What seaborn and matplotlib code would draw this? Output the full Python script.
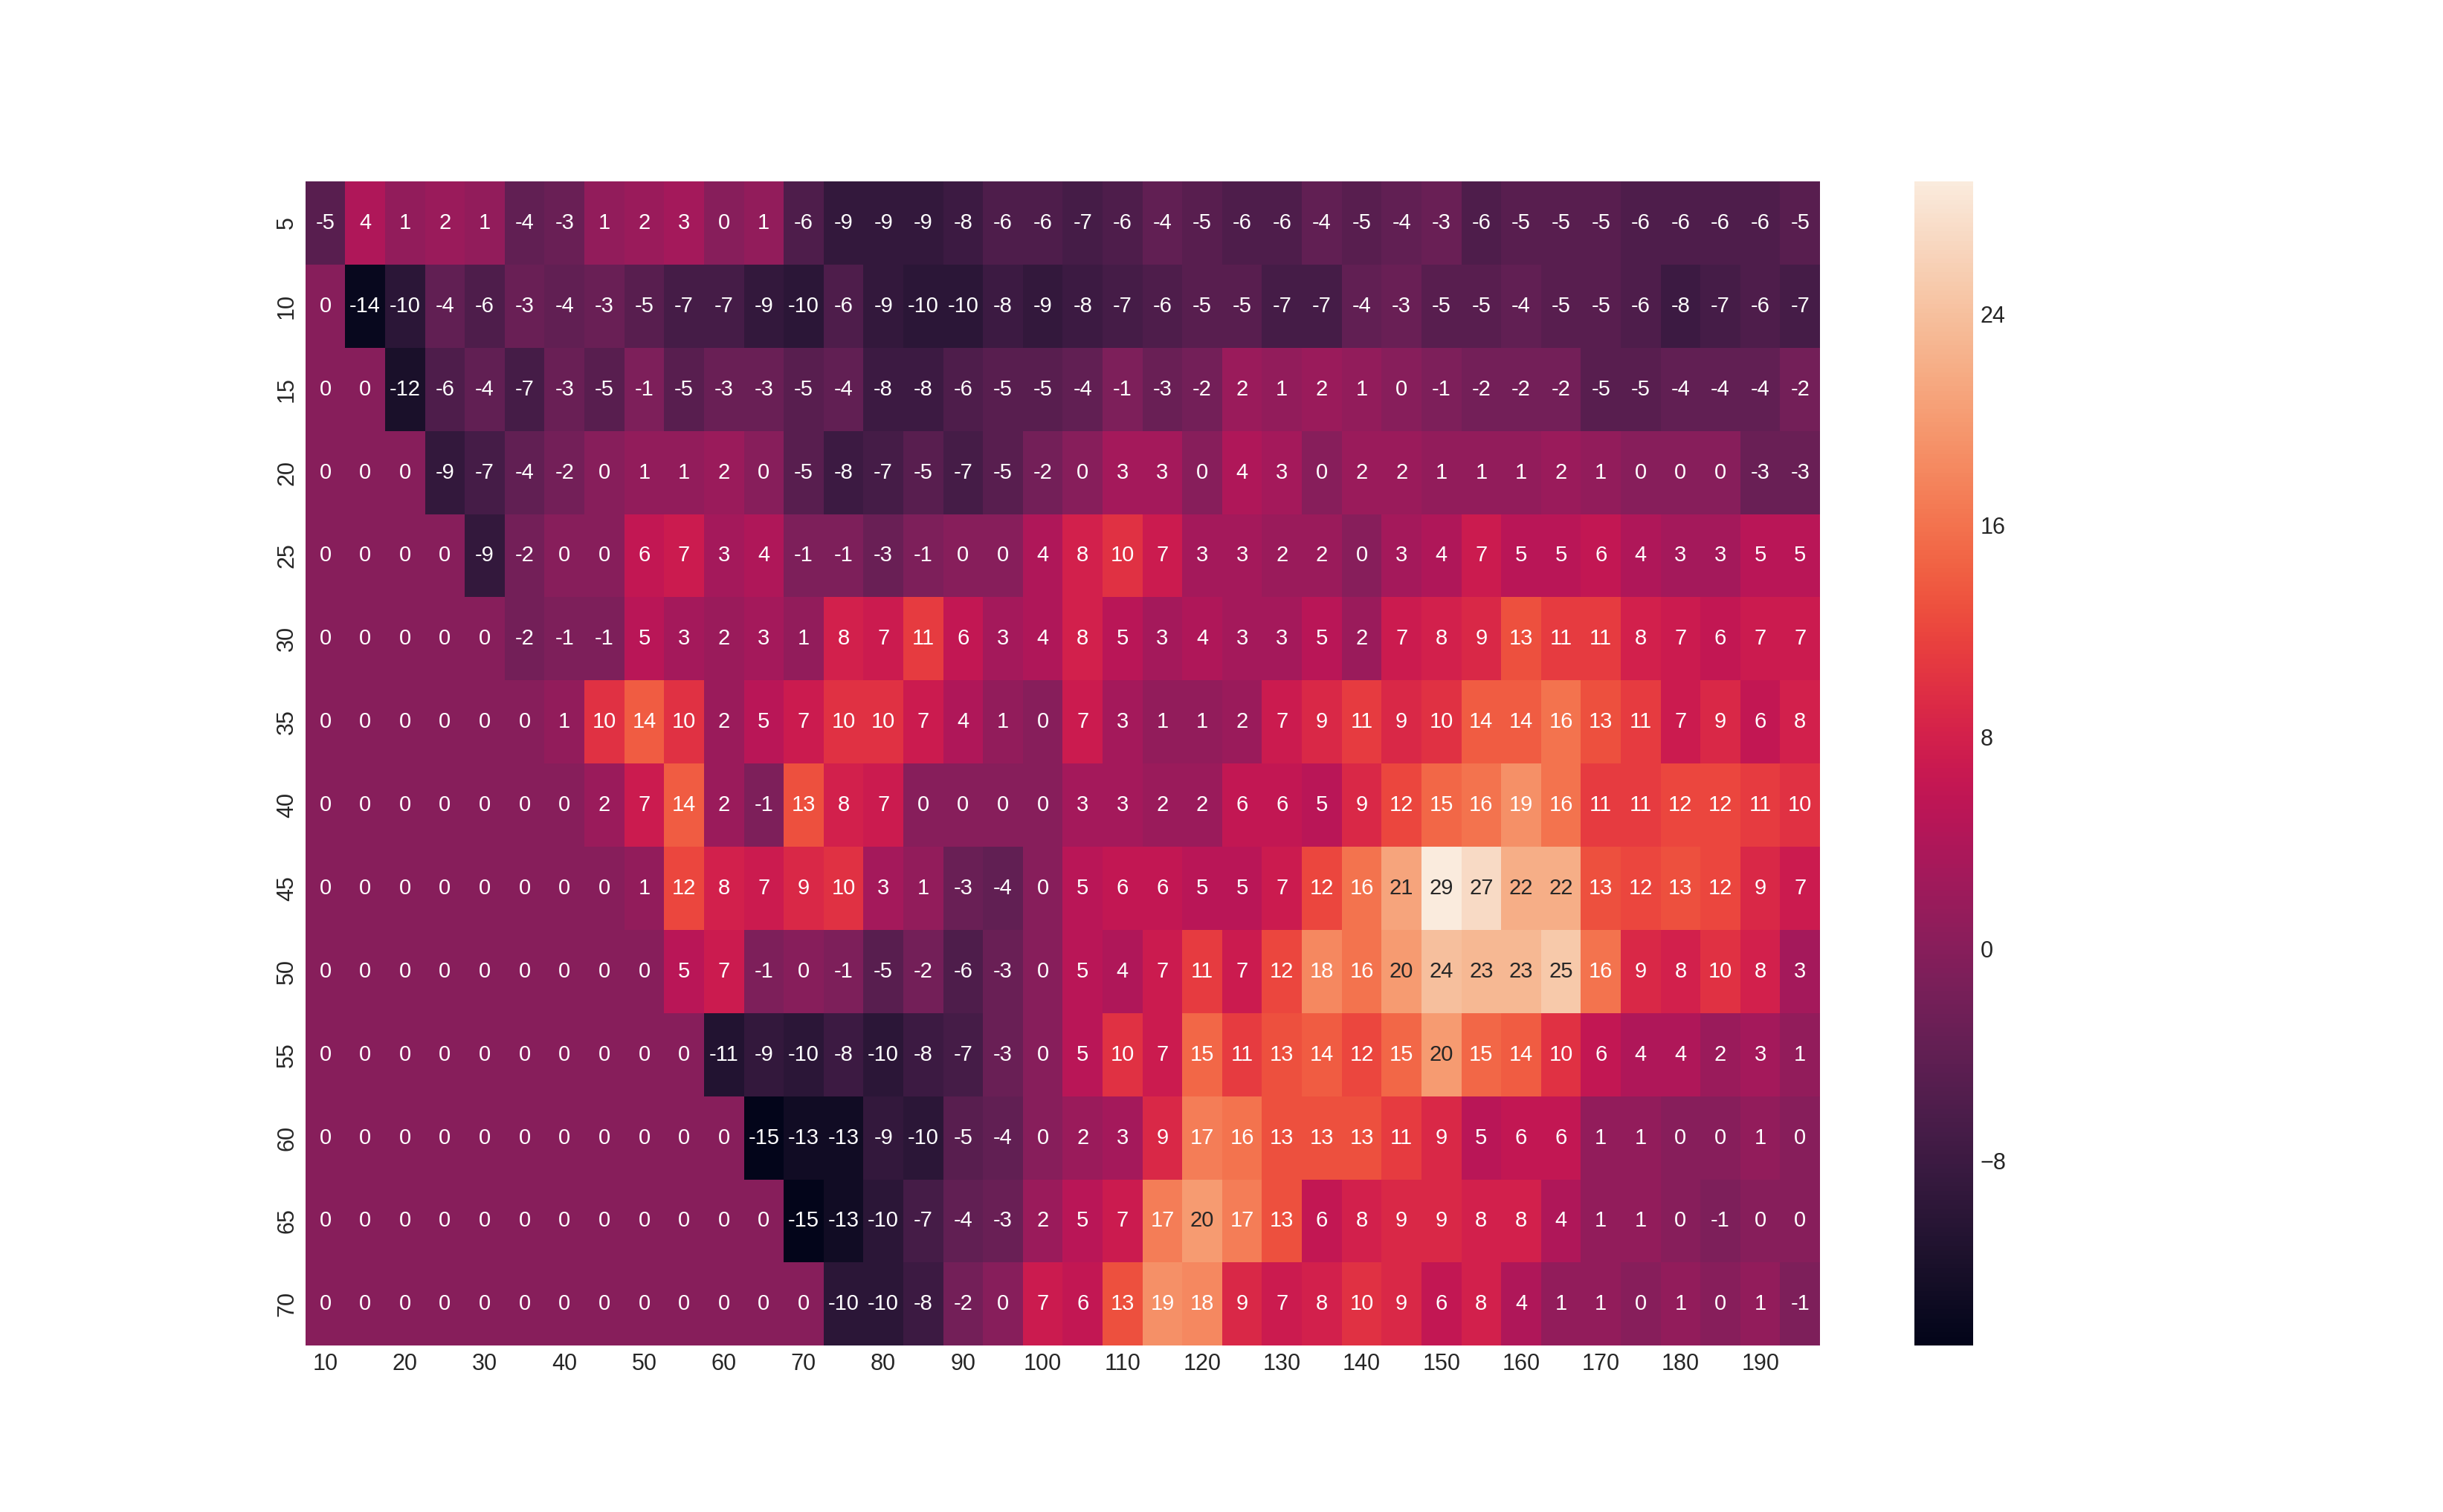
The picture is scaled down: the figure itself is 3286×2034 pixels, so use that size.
import numpy as np
import pandas as pd
import matplotlib
matplotlib.use('Agg')
import matplotlib.pyplot as plt
from matplotlib.ticker import MultipleLocator
import seaborn as sns

# row / column labels
rows = [5, 10, 15, 20, 25, 30, 35, 40, 45, 50, 55, 60, 65, 70]
cols = list(range(10, 200, 5))

r5 = [-5, 4, 1, 2, 1, -4, -3, 1, 2, 3, 0, 1, -6, -9, -9, -9, -8, -6, -6, -7, -6, -4, -5, -6, -6, -4, -5, -4, -3, -6, -5, -5, -5, -6, -6, -6, -6, -5]
r10 = [0, -14, -10, -4, -6, -3, -4, -3, -5, -7, -7, -9, -10, -6, -9, -10, -10, -8, -9, -8, -7, -6, -5, -5, -7, -7, -4, -3, -5, -5, -4, -5, -5, -6, -8, -7, -6, -7]
r15 = [0, 0, -12, -6, -4, -7, -3, -5, -1, -5, -3, -3, -5, -4, -8, -8, -6, -5, -5, -4, -1, -3, -2, 2, 1, 2, 1, 0, -1, -2, -2, -2, -5, -5, -4, -4, -4, -2]
r20 = [0, 0, 0, -9, -7, -4, -2, 0, 1, 1, 2, 0, -5, -8, -7, -5, -7, -5, -2, 0, 3, 3, 0, 4, 3, 0, 2, 2, 1, 1, 1, 2, 1, 0, 0, 0, -3, -3]
r25 = [0, 0, 0, 0, -9, -2, 0, 0, 6, 7, 3, 4, -1, -1, -3, -1, 0, 0, 4, 8, 10, 7, 3, 3, 2, 2, 0, 3, 4, 7, 5, 5, 6, 4, 3, 3, 5, 5]
r30 = [0, 0, 0, 0, 0, -2, -1, -1, 5, 3, 2, 3, 1, 8, 7, 11, 6, 3, 4, 8, 5, 3, 4, 3, 3, 5, 2, 7, 8, 9, 13, 11, 11, 8, 7, 6, 7, 7]
r35 = [0, 0, 0, 0, 0, 0, 1, 10, 14, 10, 2, 5, 7, 10, 10, 7, 4, 1, 0, 7, 3, 1, 1, 2, 7, 9, 11, 9, 10, 14, 14, 16, 13, 11, 7, 9, 6, 8]
r40 = [0, 0, 0, 0, 0, 0, 0, 2, 7, 14, 2, -1, 13, 8, 7, 0, 0, 0, 0, 3, 3, 2, 2, 6, 6, 5, 9, 12, 15, 16, 19, 16, 11, 11, 12, 12, 11, 10]
r45 = [0, 0, 0, 0, 0, 0, 0, 0, 1, 12, 8, 7, 9, 10, 3, 1, -3, -4, 0, 5, 6, 6, 5, 5, 7, 12, 16, 21, 29, 27, 22, 22, 13, 12, 13, 12, 9, 7]
r50 = [0, 0, 0, 0, 0, 0, 0, 0, 0, 5, 7, -1, 0, -1, -5, -2, -6, -3, 0, 5, 4, 7, 11, 7, 12, 18, 16, 20, 24, 23, 23, 25, 16, 9, 8, 10, 8, 3]
r55 = [0, 0, 0, 0, 0, 0, 0, 0, 0, 0, -11, -9, -10, -8, -10, -8, -7, -3, 0, 5, 10, 7, 15, 11, 13, 14, 12, 15, 20, 15, 14, 10, 6, 4, 4, 2, 3, 1]
r60 = [0, 0, 0, 0, 0, 0, 0, 0, 0, 0, 0, -15, -13, -13, -9, -10, -5, -4, 0, 2, 3, 9, 17, 16, 13, 13, 13, 11, 9, 5, 6, 6, 1, 1, 0, 0, 1, 0]
r65 = [0, 0, 0, 0, 0, 0, 0, 0, 0, 0, 0, 0, -15, -13, -10, -7, -4, -3, 2, 5, 7, 17, 20, 17, 13, 6, 8, 9, 9, 8, 8, 4, 1, 1, 0, -1, 0, 0]
r70 = [0, 0, 0, 0, 0, 0, 0, 0, 0, 0, 0, 0, 0, -10, -10, -8, -2, 0, 7, 6, 13, 19, 18, 9, 7, 8, 10, 9, 6, 8, 4, 1, 1, 0, 1, 0, 1, -1]

df = pd.DataFrame([r5, r10, r15, r20, r25, r30, r35, r40, r45, r50, r55, r60, r65, r70],
                  index=rows, columns=cols)

sns.set_theme(style='white')
plt.rcParams['font.family'] = ['Liberation Sans', 'DejaVu Sans']

fig, ax = plt.subplots(figsize=(16.43, 10.17), dpi=200)
sns.heatmap(df, annot=True, fmt='d', annot_kws={'size': 10.5},
            xticklabels=2, yticklabels=1, ax=ax)
ax.tick_params(axis='both', labelsize=11, length=0)
plt.setp(ax.get_xticklabels(), rotation=0)
plt.setp(ax.get_yticklabels(), rotation=90, va='center')
cbar = ax.collections[0].colorbar
cbar.locator = MultipleLocator(8)
cbar.update_ticks()
cbar.ax.tick_params(labelsize=11, length=0)

fig.savefig('out.png', dpi=200)
